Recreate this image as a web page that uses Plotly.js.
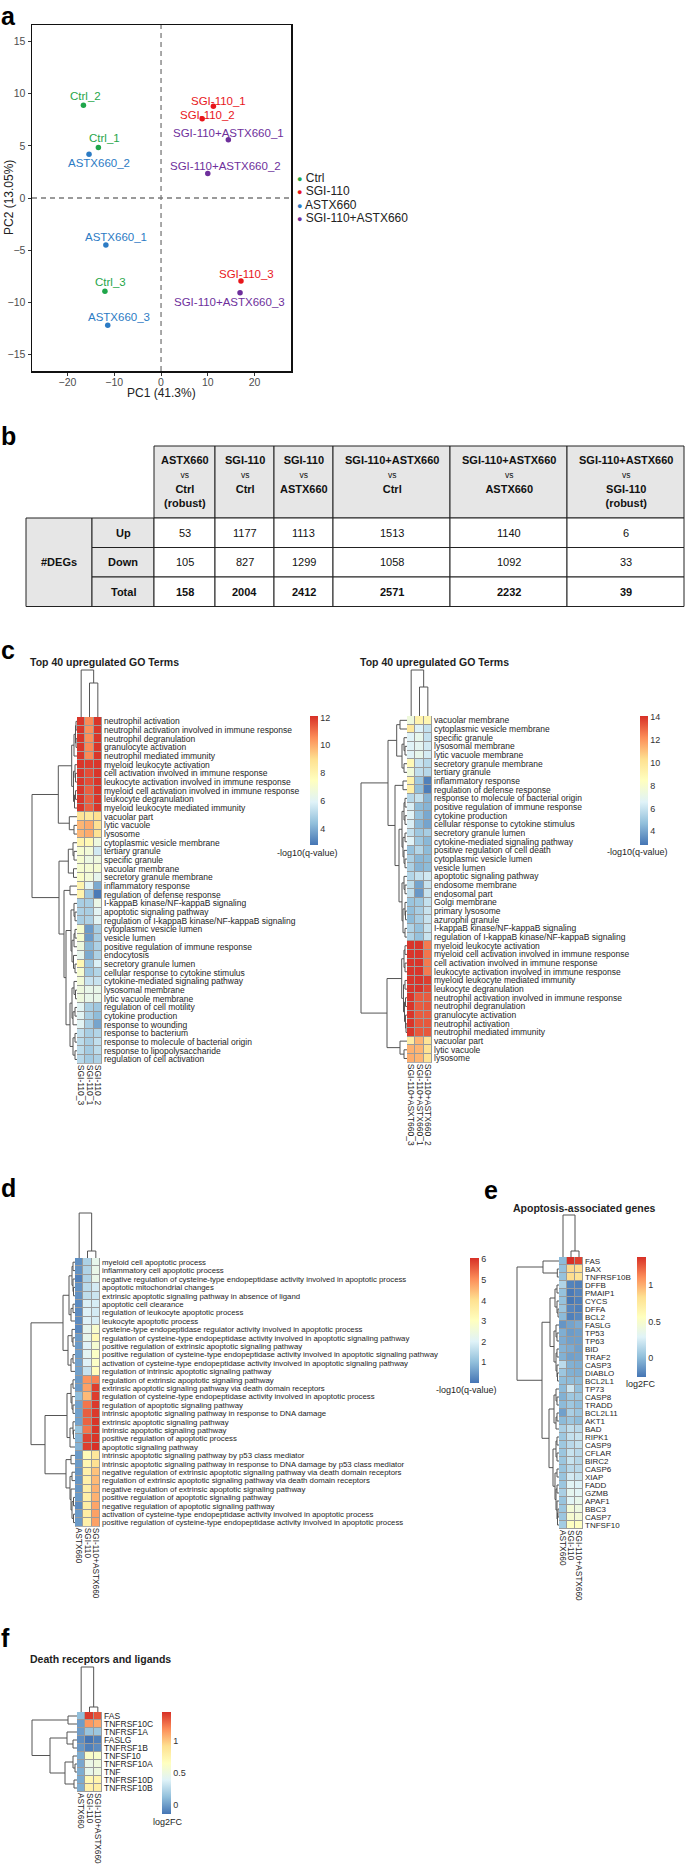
<!DOCTYPE html>
<html><head><meta charset="utf-8">
<script src="https://cdn.plot.ly/plotly-3.0.1.min.js"></script>
<style>html,body{margin:0;padding:0;background:#fff;}#fig{width:685px;height:1876px;}</style>
</head><body><div id="fig"></div>
<script>
// ================= DATA =================
// Panel a: PCA
const pcaSamples = ['Ctrl_1','Ctrl_2','Ctrl_3','SGI-110_1','SGI-110_2','SGI-110_3','ASTX660_1','ASTX660_2','ASTX660_3','SGI-110+ASTX660_1','SGI-110+ASTX660_2','SGI-110+ASTX660_3'];
const pcaGroup = ['Ctrl','Ctrl','Ctrl','SGI-110','SGI-110','SGI-110','ASTX660','ASTX660','ASTX660','SGI-110+ASTX660','SGI-110+ASTX660','SGI-110+ASTX660'];
const pcaPC1 = [-13.4,-16.6,-12.0,11.2,8.8,17.1,-11.8,-15.4,-11.4,14.4,10.0,16.9];
const pcaPC2 = [4.84,8.9,-8.95,8.8,7.6,-7.96,-4.5,4.2,-12.2,5.6,2.36,-9.1];
const groupNames = ['Ctrl','SGI-110','ASTX660','SGI-110+ASTX660'];

// Panel b: DEG table
const cmpA = ['ASTX660','SGI-110','SGI-110','SGI-110+ASTX660','SGI-110+ASTX660','SGI-110+ASTX660'];
const cmpB = ['Ctrl','Ctrl','ASTX660','Ctrl','ASTX660','SGI-110'];
const cmpRobust = [true,false,false,false,false,true];
const degUp = [53,1177,1113,1513,1140,6];
const degDown = [105,827,1299,1058,1092,33];
const degTotal = [158,2004,2412,2571,2232,39];

// Panel c (left): SGI-110 replicates
const cLCols = ['SGI-110_3','SGI-110_1','SGI-110_2'];
const cLTerms = ['neutrophil activation','neutrophil activation involved in immune response','neutrophil degranulation','granulocyte activation','neutrophil mediated immunity','myeloid leukocyte activation','cell activation involved in immune response','leukocyte activation involved in immune response','myeloid cell activation involved in immune response','leukocyte degranulation','myeloid leukocyte mediated immunity','vacuolar part','lytic vacuole','lysosome','cytoplasmic vesicle membrane','tertiary granule','specific granule','vacuolar membrane','secretory granule membrane','inflammatory response','regulation of defense response','I-kappaB kinase/NF-kappaB signaling','apoptotic signaling pathway','regulation of I-kappaB kinase/NF-kappaB signaling','cytoplasmic vesicle lumen','vesicle lumen','positive regulation of immune response','endocytosis','secretory granule lumen','cellular response to cytokine stimulus','cytokine-mediated signaling pathway','lysosomal membrane','lytic vacuole membrane','regulation of cell motility','cytokine production','response to wounding','response to bacterium','response to molecule of bacterial origin','response to lipopolysaccharide','regulation of cell activation'];
const cLVals = [
[12.0,10.6,12.0],[12.0,10.5,12.0],[12.0,10.5,12.0],[12.0,10.6,12.0],[12.0,10.6,12.0],
[12.0,11.9,12.0],[12.0,11.6,12.0],[12.0,11.6,12.0],[12.0,11.3,12.0],[12.0,11.3,12.0],[12.0,11.3,12.0],
[8.8,8.6,9.0],[9.8,10.0,8.9],[9.8,10.0,8.9],
[8.0,7.8,6.6],[7.0,6.8,5.6],[7.0,6.5,6.6],[7.0,6.9,6.9],[7.2,6.8,6.2],
[8.0,6.0,3.9],[8.0,4.6,2.9],
[4.8,4.8,6.4],[4.9,4.8,6.0],[4.8,4.9,6.0],
[7.0,3.6,4.8],[7.0,3.6,4.8],[6.6,4.2,4.9],[6.2,3.9,4.9],[7.8,4.6,5.8],[7.0,4.6,5.0],[6.8,5.4,5.4],
[6.6,6.3,6.3],[6.6,6.3,6.3],[6.0,4.8,4.6],[6.0,4.8,4.3],[6.0,4.8,3.8],
[5.3,4.8,5.0],[5.2,4.8,5.3],[5.2,4.7,5.2],[5.1,4.7,4.9]
];

// Panel c (right): SGI-110+ASTX660 replicates
const cRCols = ['SGI-110+ASXT660_3','SGI-110+ASTX660_1','SGI-110+ASTX660_2'];
const cRTerms = ['vacuolar membrane','cytoplasmic vesicle membrane','specific granule','lysosomal membrane','lytic vacuole membrane','secretory granule membrane','tertiary granule','inflammatory response','regulation of defense response','response to molecule of bacterial origin','positive regulation of immune response','cytokine production','cellular response to cytokine stimulus','secretory granule lumen','cytokine-mediated signaling pathway','positive regulation of cell death','cytoplasmic vesicle lumen','vesicle lumen','apoptotic signaling pathway','endosome membrane','endosomal part','Golgi membrane','primary lysosome','azurophil granule','I-kappaB kinase/NF-kappaB signaling','regulation of I-kappaB kinase/NF-kappaB signaling','myeloid leukocyte activation','myeloid cell activation involved in immune response','cell activation involved in immune response','leukocyte activation involved in immune response','myeloid leukocyte mediated immunity','leukocyte degranulation','neutrophil activation involved in immune response','neutrophil degranulation','granulocyte activation','neutrophil activation','neutrophil mediated immunity','vacuolar part','lytic vacuole','lysosome'];
const cRVals = [
[7.5,9.2,9.0],[9.8,6.5,5.9],[6.6,7.0,5.9],[6.6,6.8,6.2],[6.6,7.0,6.3],[8.8,6.0,5.6],[7.6,5.8,5.6],
[9.2,5.0,3.1],[9.4,4.7,3.0],
[5.6,5.9,4.4],[6.4,4.6,4.4],[6.6,4.8,4.1],[6.4,4.5,4.0],[5.9,5.0,5.2],[6.6,5.0,4.5],[4.8,5.5,4.6],[5.3,4.5,4.6],[5.3,4.4,4.6],
[5.5,5.9,6.2],[5.8,4.0,6.0],[5.8,3.7,6.0],[4.9,5.0,5.9],[4.7,5.2,6.0],[4.6,5.2,6.0],[5.4,4.8,6.0],[5.4,4.8,6.0],
[14.0,14.0,12.6],[14.0,14.0,12.7],[14.0,14.0,12.6],[14.0,14.0,12.6],[14.0,14.0,13.8],[14.0,14.0,13.6],
[14.0,13.2,13.2],[14.0,13.2,13.3],[14.0,13.2,13.2],[14.0,13.3,13.3],[14.0,13.3,13.3],
[9.6,11.3,10.1],[11.4,11.3,10.2],[11.5,11.3,10.2]
];

// Panel d: apoptosis GO terms
const dCols = ['ASTX660','SGI-110','SGI-110+ASTX660'];
const dTerms = ['myeloid cell apoptotic process','inflammatory cell apoptotic process','negative regulation of cysteine-type endopeptidase activity involved in apoptotic process','apoptotic mitochondrial changes','extrinsic apoptotic signaling pathway in absence of ligand','apoptotic cell clearance','regulation of leukocyte apoptotic process','leukocyte apoptotic process','cysteine-type endopeptidase regulator activity involved in apoptotic process','regulation of cysteine-type endopeptidase activity involved in apoptotic signaling pathway','positive regulation of extrinsic apoptotic signaling pathway','positive regulation of cysteine-type endopeptidase activity involved in apoptotic signaling pathway','activation of cysteine-type endopeptidase activity involved in apoptotic signaling pathway','regulation of intrinsic apoptotic signaling pathway','regulation of extrinsic apoptotic signaling pathway','extrinsic apoptotic signaling pathway via death domain receptors','regulation of cysteine-type endopeptidase activity involved in apoptotic process','regulation of apoptotic signaling pathway','intrinsic apoptotic signaling pathway in response to DNA damage','extrinsic apoptotic signaling pathway','intrinsic apoptotic signaling pathway','positive regulation of apoptotic process','apoptotic signaling pathway','intrinsic apoptotic signaling pathway by p53 class mediator','intrinsic apoptotic signaling pathway in response to DNA damage by p53 class mediator','negative regulation of extrinsic apoptotic signaling pathway via death domain receptors','regulation of extrinsic apoptotic signaling pathway via death domain receptors','negative regulation of extrinsic apoptotic signaling pathway','positive regulation of apoptotic signaling pathway','negative regulation of apoptotic signaling pathway','activation of cysteine-type endopeptidase activity involved in apoptotic process','positive regulation of cysteine-type endopeptidase activity involved in apoptotic process'];
const dVals = [
[0.35,1.35,2.25],[0.40,1.40,2.30],[0.15,1.40,2.30],[0.40,1.55,1.85],[0.40,1.60,1.75],
[0.30,1.95,1.90],[0.30,2.00,1.85],[0.30,2.00,1.90],[0.25,2.20,2.80],[0.50,2.25,3.20],
[0.50,2.00,2.70],[0.55,2.10,2.90],[0.60,2.00,2.90],[0.60,1.70,3.10],
[0.50,4.95,5.15],[0.50,4.80,5.90],[1.00,4.50,5.90],[0.60,5.30,5.95],[0.60,5.55,5.95],
[0.60,5.50,6.00],[1.10,5.30,6.00],[0.85,5.85,6.00],[0.85,5.90,6.05],
[0.50,3.20,3.80],[0.50,3.30,4.00],[0.45,3.50,4.40],[0.45,3.50,4.50],[0.45,3.55,4.60],
[0.50,3.55,4.60],[0.30,3.60,4.75],[0.50,3.60,4.80],[0.50,3.50,4.80]
];

// Panel e: apoptosis-associated genes (log2FC)
const eCols = ['ASTX660','SGI-110','SGI-110+ASTX660'];
const eGenes = ['FAS','BAX','TNFRSF10B','DFFB','PMAIP1','CYCS','DFFA','BCL2','FASLG','TP53','TP63','BID','TRAF2','CASP3','DIABLO','BCL2L1','TP73','CASP8','TRADD','BCL2L11','AKT1','BAD','RIPK1','CASP9','CFLAR','BIRC2','CASP6','XIAP','FADD','GZMB','APAF1','BBC3','CASP7','TNFSF10'];
const eVals = [
[0.00,1.38,1.33],[0.02,0.86,0.84],[0.03,0.84,0.80],[0.12,-0.21,-0.22],[0.03,-0.24,-0.20],
[0.03,-0.25,-0.22],[0.05,-0.20,-0.22],[0.00,-0.22,-0.19],[-0.14,-0.09,-0.06],[-0.05,-0.12,-0.10],
[-0.06,-0.10,-0.10],[-0.03,-0.06,-0.10],[-0.04,-0.10,-0.09],[0.16,-0.04,-0.05],[0.05,-0.04,-0.05],
[0.01,0.00,0.00],[0.00,0.22,0.02],[-0.04,0.06,0.05],[0.00,0.06,0.01],[-0.10,0.10,0.05],
[0.00,0.05,0.01],[0.10,0.18,0.15],[0.06,0.19,0.20],[0.06,0.15,0.19],[0.05,0.20,0.15],
[0.05,0.20,0.14],[0.04,0.15,0.15],[0.04,0.24,0.20],[0.05,0.30,0.28],[0.10,0.33,0.30],
[0.04,0.30,0.35],[0.05,0.45,0.40],[0.05,0.48,0.45],[0.08,0.55,0.55]
];

// Panel f: death receptors and ligands (log2FC)
const fCols = ['ASTX660','SGI-110','SGI-110+ASTX660'];
const fGenes = ['FAS','TNFRSF10C','TNFRSF1A','FASLG','TNFRSF1B','TNFSF10','TNFRSF10A','TNF','TNFRSF10D','TNFRSF10B'];
const fVals = [
[0.12,1.42,1.35],[0.00,1.15,1.10],[0.00,0.15,0.16],[-0.05,-0.14,-0.10],[-0.02,-0.10,-0.06],
[0.06,0.62,0.60],[0.04,0.48,0.52],[0.06,0.45,0.50],[0.05,0.72,0.75],[0.06,0.78,0.80]
];

// Clustering trees: [mergeHeight, left, right]; leaves are row/column indices
const cLRowTree = [45,
  [18.7, [5.3,[3,[1.5,[1,0,1],[1,2,3]],4],[3.5,[2,5,[1.5,6,7]],[2.5,[1.5,8,9],10]]], [7.7,11,[3,12,13]]],
  [18, [8.7,[4,14,[3,15,16]],[3.5,17,18]],
       [13, [7,19,20], [11,[6,[3,21,[2,22,23]],[5,[3,[2,24,25],26],[3.5,27,[2,28,29]]]],[7,[5,[3,30,[1.5,31,32]],[4,[2,33,34],35]],[4,[2,36,37],[2,38,39]]]]]]];
const cRRowTree = [46,
  [19, [10.3,[7,0,1],[5,[3,2,[2,3,4]],[3,5,6]]],
       [12,[4,7,8],[8,[5,[3,[2,9,10],[2,11,12]],[4,[2,13,14],[3,15,[2,16,17]]]],[5,[3,18,[2,19,20]],[4,[2,21,[1.5,22,23]],[2,24,25]]]]]],
  [20, [5.3,[3,[2,26,27],[2,28,29]],[3.5,[2,30,31],[2.5,[1.5,32,33],[1.5,34,[1,35,36]]]]], [7,37,[3,38,39]]]];
const dRowTree = [44,
  [12,[6,[3,[2,0,1],[2,2,[1.5,3,4]]],[4,[2,5,6],7]],[7,[3,8,[2,9,10]],[4,[2,11,12],13]]],
  [30,[8,[4,[2,14,15],[3,16,[2,17,18]]],[5,[2,19,[1.5,20,21]],22]],
      [9,[4,23,24],[5,[3,25,26],[4,27,[3,[1.5,28,29],[1.5,30,31]]]]]]];
const eRowTree = [42,
  [16,0,[1.7,1,2]],
  [17,[9,[4,[2,3,4],[2,5,[1,6,7]]],[5,[3,8,[2,9,10]],[3,[2,11,12],[2,13,[1.5,14,15]]]]],
      [10,[5,[3,16,[2,17,18]],[3,[2,19,20],21]],[6,[3,[2,22,23],[2,24,25]],[4,[2,26,27],[3,[2,28,29],[2,30,[1.5,[1,31,32],33]]]]]]]];
const fRowTree = [45,[9,0,1],[27,[10,2,[4,3,4]],[12,[4,5,[2,6,7]],[3,8,9]]]];
const cLColTree = [47,0,[34,1,2]];
const cRColTree = [46,0,[29,1,2]];
const dColTree = [45,0,[7,1,2]];
const eColTree = [42,0,[6,1,2]];
const fColTree = [45,0,[5,1,2]];

// ================= STYLE / LAYOUT =================
const FONT = 'Liberation Sans, Arial, Helvetica, sans-serif';
const W = 685, H = 1876;
const fx = v => v / W;
const fy = v => 1 - v / H;
const dxr = (a, b) => [a / W, b / W];
const dyr = (t, b) => [1 - b / H, 1 - t / H];
const groupColors = ['#1fa64a','#e8161b','#2c7bc4','#6e2f9c'];
const RdYlBu = [[0,'#4575B4'],[1/6,'#91BFDB'],[2/6,'#E0F3F8'],[3/6,'#FFFFBF'],[4/6,'#FEE090'],[5/6,'#FC8D59'],[1,'#D73027']];
const TXT = '#1e1e1e';

const data = [];
const shapes = [];
const ann = [];
const layout = {
  width: W, height: H, margin: {l:0, r:0, t:0, b:0},
  paper_bgcolor: '#ffffff', plot_bgcolor: '#ffffff',
  showlegend: false, hovermode: false,
  font: {family: FONT, color: TXT}
};

function panelLabel(t, x, y, anchorY) {
  ann.push({xref:'paper', yref:'paper', x: fx(x), y: fy(y), xanchor:'left', yanchor: anchorY || 'middle', text:'<b>'+t+'</b>', showarrow:false, font:{size:25, color:'#000'}});
}
function textAt(t, x, y, size, anchor, opts) {
  ann.push(Object.assign({xref:'paper', yref:'paper', x: fx(x), y: fy(y), xanchor: anchor || 'center', yanchor:'middle', text:t, showarrow:false, font:{size:size, color:TXT}}, opts || {}));
}

// ---------- Panel a ----------
panelLabel('a', -1, 0, 'top');
const axA = {ticks:'outside', ticklen:3, tickwidth:1, tickcolor:'#333', showline:true, mirror:true, linecolor:'#111', linewidth:1.5, showgrid:false, zeroline:false, tickfont:{size:10.5, color:'#4d4d4d'}, fixedrange:true};
layout.xaxis = Object.assign({domain: dxr(32,291), anchor:'y', range:[-27.6,27.8], tickmode:'array', tickvals:[-20,-10,0,10,20], ticklabelstandoff:-2}, axA);
layout.yaxis = Object.assign({domain: dyr(25,371), anchor:'x', range:[-16.6,16.6], tickmode:'array', tickvals:[-15,-10,-5,0,5,10,15]}, axA);
shapes.push({type:'line', xref:'x', yref:'y domain', x0:0, x1:0, y0:0, y1:1, line:{color:'#7a7a7a', width:1.3, dash:'5px,4px'}, layer:'below'});
shapes.push({type:'line', xref:'x domain', yref:'y', x0:0, x1:1, y0:0, y1:0, line:{color:'#7a7a7a', width:1.3, dash:'5px,4px'}, layer:'below'});
groupNames.forEach((g, gi) => {
  const idx = pcaGroup.map((v, i) => v === g ? i : -1).filter(i => i >= 0);
  data.push({type:'scatter', mode:'markers', xaxis:'x', yaxis:'y', x: idx.map(i => pcaPC1[i]), y: idx.map(i => pcaPC2[i]), marker:{size:5.5, color: groupColors[gi]}, hoverinfo:'skip'});
});
// label offsets (pixels) for sample names
const labelShiftX = [5.7,2.3,5.7,4.7,5.3,5.3,10,9.7,11,0.3,18,-10.7];
const labelShiftY = [9.7,9.3,9.7,5.7,4.0,6.7,8,-9,7.7,7,7.3,-9];
pcaSamples.forEach((s, i) => {
  ann.push({xref:'x', yref:'y', x: pcaPC1[i], y: pcaPC2[i], xshift: labelShiftX[i], yshift: labelShiftY[i], text: s, showarrow:false, font:{size:11.5, color: groupColors[groupNames.indexOf(pcaGroup[i])]}});
});
textAt('PC1 (41.3%)', 161, 393, 12, 'center', {font:{size:12, color:'#222'}});
textAt('PC2 (13.05%)', 9, 198, 12, 'center', {textangle:-90, font:{size:12, color:'#222'}});
groupNames.forEach((g, gi) => {
  textAt('<span style="font-size:9px;fill:' + groupColors[gi] + '">●</span> ' + g, 295, 178 + gi * 13.4, 12, 'left', {font:{size:12, color:'#222'}});
});

// ---------- Panel b (table) ----------
panelLabel('b', -1, 436);
const tColW = [66, 62, 61, 59, 59, 117, 117, 117];
const tRowH = [72, 29.5, 29.5, 29.5];
const cx = [0]; tColW.forEach(w => cx.push(cx[cx.length - 1] + w));
const cy = [0]; tRowH.forEach(h => cy.push(cy[cy.length - 1] + h));
layout.xaxis2 = {domain: dxr(25, 685), anchor:'y2', range:[-1, cx[cx.length-1] + 1], visible:false, fixedrange:true};
layout.yaxis2 = {domain: dyr(445, 446 + cy[cy.length-1] + 1), anchor:'x2', range:[cy[cy.length-1] + 1, -1], visible:false, fixedrange:true};
function cell(x0, x1, y0, y1, fill) {
  shapes.push({type:'rect', xref:'x2', yref:'y2', x0:x0, x1:x1, y0:y0, y1:y1, fillcolor:fill, line:{color:'#222', width:1}});
}
const GRAY = '#e6e6e6';
for (let j = 0; j < cmpA.length; j++) cell(cx[j+2], cx[j+3], cy[0], cy[1], GRAY);
cell(cx[0], cx[1], cy[1], cy[4], GRAY);
for (let r = 1; r <= 3; r++) cell(cx[1], cx[2], cy[r], cy[r+1], GRAY);
for (let r = 1; r <= 3; r++) for (let j = 0; j < cmpA.length; j++) cell(cx[j+2], cx[j+3], cy[r], cy[r+1], '#ffffff');
function tText(t, x, y, size, ya) {
  ann.push({xref:'x2', yref:'y2', x:x, y:y, text:t, showarrow:false, xanchor:'center', yanchor: ya || 'middle', font:{size:size, color:'#111'}});
}
cmpA.forEach((a, j) => {
  const t = '<b>' + a + '</b><br><span style="font-size:8.5px">vs</span><br><b>' + cmpB[j] + '</b>' + (cmpRobust[j] ? '<br><b>(robust)</b>' : '');
  tText(t, (cx[j+2] + cx[j+3]) / 2, 6, 11, 'top');
  tText(String(degUp[j]), (cx[j+2] + cx[j+3]) / 2, (cy[1] + cy[2]) / 2, 11);
  tText(String(degDown[j]), (cx[j+2] + cx[j+3]) / 2, (cy[2] + cy[3]) / 2, 11);
  tText('<b>' + degTotal[j] + '</b>', (cx[j+2] + cx[j+3]) / 2, (cy[3] + cy[4]) / 2, 11);
});
tText('<b>#DEGs</b>', (cx[0] + cx[1]) / 2, (cy[1] + cy[4]) / 2, 11);
['Up', 'Down', 'Total'].forEach((t, r) => tText('<b>' + t + '</b>', (cx[1] + cx[2]) / 2, (cy[r+1] + cy[r+2]) / 2, 11));

// ---------- Heatmap helper ----------
function treeLines(tree) {
  const h = [], p = [];
  function walk(node) {
    if (typeof node === 'number') return {p: node, h: 0};
    const a = walk(node[1]), b = walk(node[2]);
    h.push(a.h, node[0], node[0], b.h, null);
    p.push(a.p, a.p, b.p, b.p, null);
    return {p: (a.p + b.p) / 2, h: node[0]};
  }
  walk(tree);
  return {h, p};
}
const seq = n => Array.from({length: n}, (_, i) => i);
function addHeatmap(n, c) {
  const nr = c.rows.length, nc = c.cols.length;
  const hy1 = c.hy0 + nr * c.rowH;
  const kx = String(n), kd = String(n + 1), kc = String(n + 2);
  layout['xaxis' + kx] = {domain: dxr(c.hx0, c.hx1), anchor:'y' + kx, range:[-0.5, nc - 0.5], tickmode:'array', tickvals: seq(nc), ticktext: c.cols, tickangle:90, ticks:'', showgrid:false, zeroline:false, showline:false, tickfont:{size: c.colFont, color: TXT}, fixedrange:true};
  layout['yaxis' + kx] = {domain: dyr(c.hy0, hy1), anchor:'x' + kx, range:[nr - 0.5, -0.5], side:'right', tickmode:'array', tickvals: seq(nr), ticktext: c.rows, ticks:'', showgrid:false, zeroline:false, showline:false, tickfont:{size: c.rowFont, color: TXT}, ticklabelstandoff: 1, fixedrange:true};
  shapes.push({type:'rect', xref:'x' + kx, yref:'y' + kx, x0:-0.5, x1:nc - 0.5, y0:-0.5, y1:nr - 0.5, fillcolor:'#9b9b9b', line:{color:'#9b9b9b', width:1}, layer:'below'});
  data.push({type:'heatmap', xaxis:'x' + kx, yaxis:'y' + kx, x: seq(nc), y: seq(nr), z: c.z, zmin: c.zmin, zmax: c.zmax, colorscale: RdYlBu, xgap:1, ygap:1, hoverinfo:'skip',
    colorbar:{x: fx(c.cbx), xanchor:'left', xpad:0, y: fy(c.cbTop), yanchor:'top', ypad:0, len: c.cbLen, lenmode:'pixels', thickness: c.cbW, thicknessmode:'pixels', outlinewidth:0, tickmode:'array', tickvals: c.cbTicks, ticks:'', tickfont:{size:9, color:'#333'}}});
  // row dendrogram
  const rd = treeLines(c.rowTree);
  const wpx = c.hx0 - c.rdx0;
  layout['xaxis' + kd] = {domain: dxr(c.rdx0 - 1, c.hx0), anchor:'y' + kd, range:[c.rowTree[0] * (wpx + 1) / wpx, 0], visible:false, fixedrange:true};
  layout['yaxis' + kd] = {domain: dyr(c.hy0, hy1), anchor:'x' + kd, range:[nr - 0.5, -0.5], visible:false, fixedrange:true};
  data.push({type:'scatter', mode:'lines', xaxis:'x' + kd, yaxis:'y' + kd, x: rd.h, y: rd.p, line:{color:'#555', width:1}, hoverinfo:'skip', connectgaps:false});
  // column dendrogram
  const cd = treeLines(c.colTree);
  const hpx = c.hy0 - c.cdy0;
  layout['xaxis' + kc] = {domain: dxr(c.hx0, c.hx1), anchor:'y' + kc, range:[-0.5, nc - 0.5], visible:false, fixedrange:true};
  layout['yaxis' + kc] = {domain: dyr(c.cdy0 - 1, c.hy0), anchor:'x' + kc, range:[0, c.colTree[0] * (hpx + 1) / hpx], visible:false, fixedrange:true};
  data.push({type:'scatter', mode:'lines', xaxis:'x' + kc, yaxis:'y' + kc, x: cd.p, y: cd.h, line:{color:'#555', width:1}, hoverinfo:'skip', connectgaps:false});
}

// ---------- Panel c ----------
panelLabel('c', -1, 650);
textAt('<b>Top 40 upregulated GO Terms</b>', 28, 662, 10.5, 'left');
textAt('<b>Top 40 upregulated GO Terms</b>', 358, 662, 10.5, 'left');
addHeatmap(3, {rows: cLTerms, cols: cLCols, z: cLVals, zmin:2.8, zmax:12.1, rowTree: cLRowTree, colTree: cLColTree,
  hx0:77, hx1:102, hy0:717, rowH:8.67, rdx0:32, cdy0:670, rowFont:8.5, colFont:8.5,
  cbx:310, cbTop:716, cbLen:129, cbW:8, cbTicks:[4,6,8,10,12]});
textAt('-log10(q-value)', 307, 853, 9);
addHeatmap(6, {rows: cRTerms, cols: cRCols, z: cRVals, zmin:2.8, zmax:14.1, rowTree: cRRowTree, colTree: cRColTree,
  hx0:407, hx1:432, hy0:716, rowH:8.67, rdx0:361, cdy0:670, rowFont:8.5, colFont:8.5,
  cbx:640, cbTop:716, cbLen:129, cbW:8, cbTicks:[4,6,8,10,12,14]});
textAt('-log10(q-value)', 637, 852, 9);

// ---------- Panel d ----------
panelLabel('d', -1, 1188);
addHeatmap(9, {rows: dTerms, cols: dCols, z: dVals, zmin:0.0, zmax:6.05, rowTree: dRowTree, colTree: dColTree,
  hx0:75, hx1:100, hy0:1258, rowH:8.4, rdx0:31, cdy0:1213, rowFont:7.8, colFont:8.3,
  cbx:470, cbTop:1258, cbLen:125, cbW:9, cbTicks:[1,2,3,4,5,6]});
textAt('-log10(q-value)', 466, 1390, 9);

// ---------- Panel e ----------
panelLabel('e', 482, 1190);
textAt('<b>Apoptosis-associated genes</b>', 584, 1208, 10.5);
addHeatmap(12, {rows: eGenes, cols: eCols, z: eVals, zmin:-0.26, zmax:1.38, rowTree: eRowTree, colTree: eColTree,
  hx0:559, hx1:583, hy0:1257, rowH:8.0, rdx0:517, cdy0:1215, rowFont:8, colFont:8.3,
  cbx:637, cbTop:1257, cbLen:120, cbW:9, cbTicks:[0,0.5,1]});
textAt('log2FC', 641, 1384, 9);

// ---------- Panel f ----------
panelLabel('f', -1, 1638);
textAt('<b>Death receptors and ligands</b>', 28, 1659, 10.5, 'left');
addHeatmap(15, {rows: fGenes, cols: fCols, z: fVals, zmin:-0.14, zmax:1.45, rowTree: fRowTree, colTree: fColTree,
  hx0:77, hx1:102, hy0:1712, rowH:8.0, rdx0:32, cdy0:1667, rowFont:8.5, colFont:8.3,
  cbx:162, cbTop:1712, cbLen:102, cbW:9, cbTicks:[0,0.5,1]});
textAt('log2FC', 168, 1822, 9);

layout.shapes = shapes;
layout.annotations = ann;
Plotly.newPlot('fig', data, layout, {staticPlot:true, displayModeBar:false});
</script></body></html>
